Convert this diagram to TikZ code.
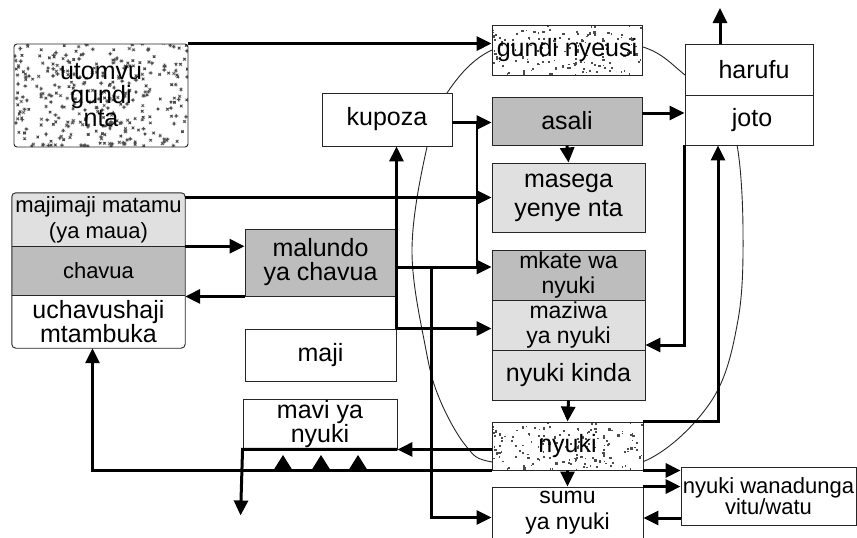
\documentclass[tikz,border=0pt]{standalone}
\usepackage{fontspec}
\setmainfont{Liberation Sans}
\usetikzlibrary{arrows.meta,calc}
\begin{document}
\begin{tikzpicture}[x=1pt,y=-1pt,
  bx/.style={draw=black!85,line width=0.9pt,inner sep=0pt,align=center},
  fa/.style={font=\fontsize{25}{#1}\selectfont},
  fb/.style={font=\fontsize{22}{#1}\selectfont},
  fc/.style={font=\fontsize{23}{#1}\selectfont},
  light/.style={fill=black!12},
  mid/.style={fill=black!26},
  coarse/.style={fill=white,path picture={
    \pgfmathsetseed{11}
    \foreach \k in {1,...,#1}{
      \pgfmathsetmacro\ra{rnd}
      \pgfmathsetmacro\rb{rnd}
      \pgfmathsetmacro\rs{1.2+1.4*rnd}
      \fill[black!70] let \p1=(path picture bounding box.south west),
        \p2=(path picture bounding box.north east) in
        (\x1+\ra*\x2-\ra*\x1, \y1+\rb*\y2-\rb*\y1) rectangle ++(\rs pt,\rs pt);
    }}},
  arr/.style={line width=3pt,-{Triangle[length=15pt,width=14pt]}},
  ln/.style={line width=3pt},
  thinln/.style={line width=2pt},
  curve/.style={line width=0.9pt,black!85},
]
\useasboundingbox (0,0) rectangle (857,538);

% large closed curve around the hive
\draw[curve] plot[smooth cycle, tension=0.6] coordinates {
  (492,50) (567,38) (643,47) (685,75) (720,108) (737,145) (743,230)
  (738,320) (712,400) (647,460) (570,466) (492,462) (466,446)
  (440,400) (426,350) (412,250) (427,147) (447,93)};

% left side
\node[bx,coarse=330,rounded corners=3pt,minimum width=174pt,minimum height=103pt,fa=23.5] (utomvu) at (101,95.5) {utomvu\\gundi\\nta};
\node[inner sep=0pt,light,minimum width=173pt,minimum height=53pt,fb=26,align=center] (majimaji) at (98.5,219.5) {majimaji matamu\\(ya maua)};
\node[inner sep=0pt,mid,minimum width=173pt,minimum height=49pt,fb=22,align=center] (chavua) at (98.5,270.5) {chavua};
\node[inner sep=0pt,fill=white,minimum width=173pt,minimum height=53pt,fa=21,align=center] (uchav) at (98.5,321.5) {uchavushaji\\mtambuka};
\draw[draw=black!85,line width=0.9pt,rounded corners=4pt] (majimaji.north west) rectangle (uchav.south east);
\draw[draw=black!85,line width=0.9pt] (majimaji.south west) -- (majimaji.south east);
\draw[draw=black!85,line width=0.9pt] (chavua.south west) -- (chavua.south east);

\node[bx,mid,minimum width=151pt,minimum height=67pt,fa=24] (malundo) at (320.5,262.5) {malundo\\ya chavua};
\node[bx,fill=white,minimum width=151pt,minimum height=52pt,fa=24] (maji) at (320.5,355) {maji};
\node[bx,fill=white,minimum width=154pt,minimum height=50pt,fa=21.5] (mavi) at (320,424) {mavi ya\\nyuki};
\node[bx,fill=white,minimum width=130pt,minimum height=53pt,fa=24] (kupoza) at (387,119.5) {kupoza};

% central column
\node[bx,coarse=150,minimum width=150pt,minimum height=50pt,fa=24] (gundi) at (567,50) {gundi nyeusi};
\node[bx,mid,minimum width=150pt,minimum height=48pt,fa=24] (asali) at (567,121) {asali};
\node[bx,light,minimum width=153pt,minimum height=69pt,fa=29] (masega) at (568.5,197.5) {masega\\yenye nta};
\node[bx,mid,minimum width=153pt,minimum height=50pt,fc=25.5] (mkate) at (568.5,275) {mkate wa\\nyuki};
\node[bx,light,minimum width=153pt,minimum height=50pt,fc=25.5] (maziwa) at (568.5,325) {maziwa\\ya nyuki};
\node[bx,light,minimum width=153pt,minimum height=50pt,fa=24] (kinda) at (568.5,375) {nyuki kinda};
\node[bx,coarse=150,minimum width=151pt,minimum height=48pt,fa=24] (nyuki) at (567.5,446) {nyuki};
\node[bx,fill=white,minimum width=151pt,minimum height=51pt,fc=25.5] (sumu) at (567.5,512.5) {sumu\\ya nyuki};

% right side
\node[bx,fill=white,minimum width=128pt,minimum height=51pt,fa=24] (harufu) at (749,69.5) {\hspace{10pt}harufu};
\node[bx,fill=white,minimum width=128pt,minimum height=50pt,fa=24] (joto) at (749,120) {\hspace{6pt}joto};
\node[bx,fill=white,minimum width=175pt,minimum height=58pt,fb=21] (nwd) at (768.5,496) {nyuki wanadunga\\vitu/watu};

% helper coordinates
\coordinate (up) at (720,8);
\coordinate (kv) at (477,116.5);
\coordinate (mk) at ([yshift=-4.5pt]malundo.east);
\coordinate (br) at (431,267);

% connectors
\draw[arr] (utomvu.north east) -- (utomvu.north east -| gundi.west);
\draw[arr] ([yshift=-3pt]kupoza.east) -- ([yshift=-3pt]kupoza.east -| asali.west);
\draw[thinln] ([yshift=-3pt]kupoza.east -| kv) -- (mk -| kv);
\draw[arr] (masega.west -| majimaji.east) -- (masega.west);
\draw[arr] (majimaji.south east) -- (majimaji.south east -| malundo.west);
\draw[arr] (malundo.south west) -- (malundo.south west -| chavua.east);
\draw[arr] (mk) -- (mk -| mkate.west);
\draw[arr] (br) |- ([yshift=-5pt]sumu.west);
\draw[arr] (maji.north east) -- (maji.north east -| maziwa.west);
\draw[arr] (maji.north east) -- (maji.north east |- kupoza.south);
\draw[arr] (asali.south) -- (masega.north);
\draw[arr] ([yshift=8pt]asali.east) -- ([yshift=8pt]asali.east -| joto.west);
\draw[arr] (harufu.north -| up) -- (up);
\draw[arr] (joto.south west) |- ([yshift=-20pt]maziwa.east);
\draw[arr] (nyuki.north east) -| ([xshift=-31pt]joto.south);
\draw[arr] (kinda.south) -- (nyuki.north);
\draw[arr] (nyuki.south) -- (sumu.north);
\draw[arr] (mavi.south east -| nyuki.west) -- (mavi.south east);
\draw[arr] (mavi.south east) -- (mavi.south west) -- ++(-2,66);
\draw[arr] (nyuki.south west) -| ([xshift=-6pt]uchav.south);
\draw[arr] (nyuki.south east) -- (nyuki.south east -| nwd.west);
\draw[arr] (sumu.north east) -- (sumu.north east -| nwd.west);
\draw[arr] ([yshift=-22pt]nwd.west) -- ([yshift=-22pt]nwd.west -| sumu.east);

% triangles on the return line
\foreach \tx in {283,321,358}{
  \fill (\tx-10,471) -- (\tx+10,471) -- (\tx,455) -- cycle;
}
\end{tikzpicture}
\end{document}
